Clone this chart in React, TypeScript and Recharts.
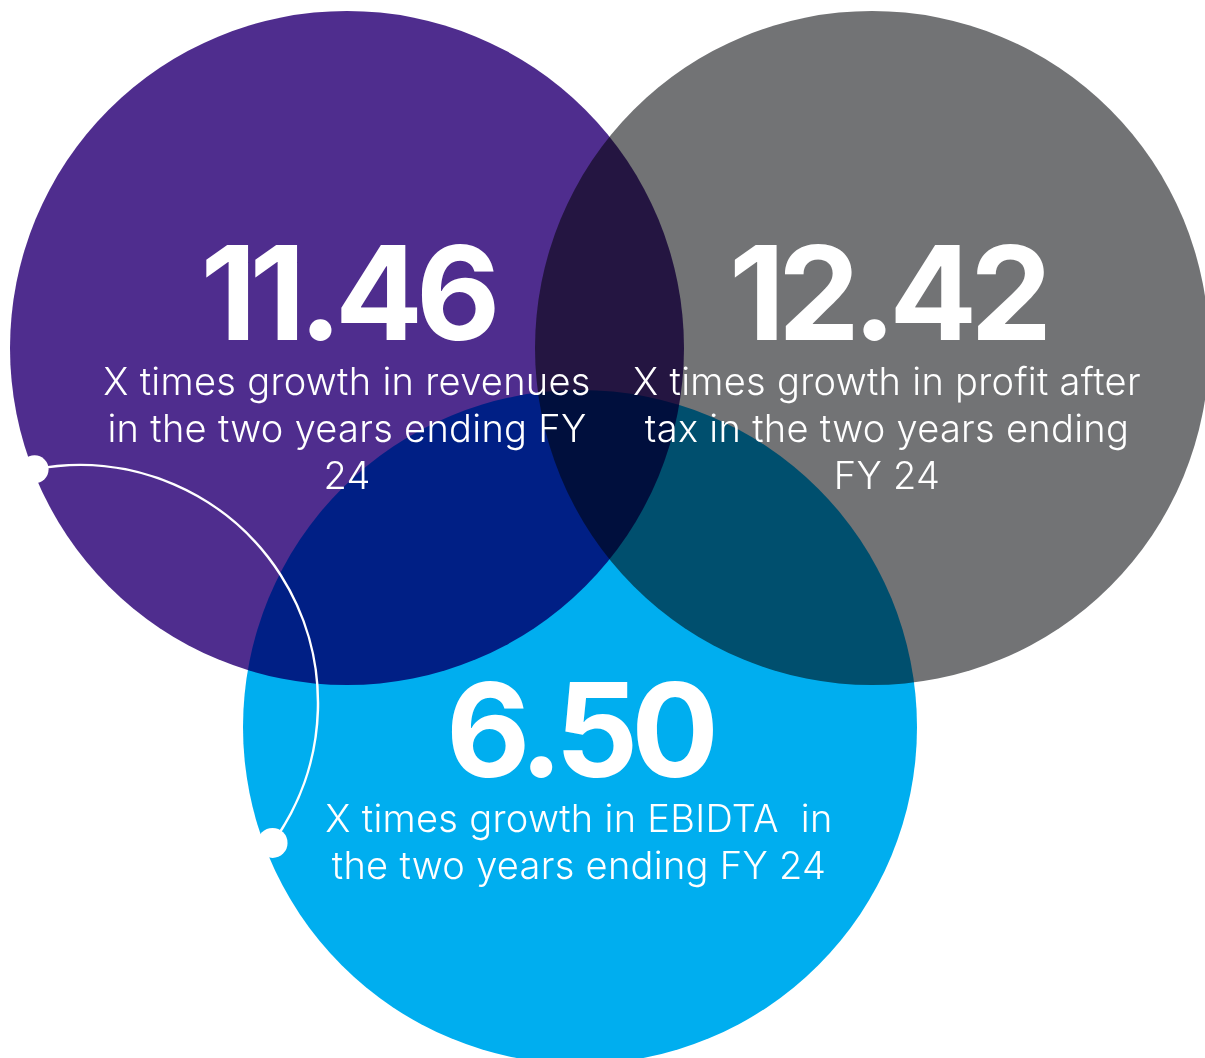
import React from "react";
import { ScatterChart, Scatter, XAxis, YAxis } from "recharts";

// growth multiples, FY22 -> FY24
const metrics = ["11.46", "12.42", "6.50"];
const captions = [
  ["X times growth in revenues", "in the two years ending FY", "24"],
  ["X times growth in profit after", "tax in the two years ending", "FY 24"],
  ["X times growth in EBIDTA  in", "the two years ending FY 24"],
];
// venn layout (chart units)
const circleX = [347, 872, 580];
const circleY = [348, 348, 727];
const labelX = [347, 887, 579];
const labelY = [340, 340, 777];
const connectorX = [80];
const connectorY = [703];

const colors = ["#4F2D8E", "#727375", "#00AEEF"];

const W = 1205;
const H = 1058;
const R = 337;

const circles = circleX.map((x, i) => ({ x, y: circleY[i], color: colors[i] }));
const labels = labelX.map((x, i) => ({ x, y: labelY[i], value: metrics[i], lines: captions[i] }));
const connector = connectorX.map((x, i) => ({ x, y: connectorY[i] }));

const CircleShape = (props: any) => {
  const { cx, cy, payload } = props;
  return <circle cx={cx} cy={cy} r={R} fill={payload.color} style={{ mixBlendMode: "multiply" }} />;
};

const ArcShape = (props: any) => {
  const { cx, cy } = props;
  const r = 238;
  const a0 = (-101 * Math.PI) / 180;
  const a1 = (36 * Math.PI) / 180;
  const x0 = cx + r * Math.cos(a0);
  const y0 = cy + r * Math.sin(a0);
  const x1 = cx + r * Math.cos(a1);
  const y1 = cy + r * Math.sin(a1);
  return (
    <g>
      <path d={`M${x0},${y0} A${r},${r} 0 0 1 ${x1},${y1}`} fill="none" stroke="#fff" strokeWidth={2.5} />
      <circle cx={x0} cy={y0} r={14} fill="#fff" />
      <circle cx={x1} cy={y1} r={15} fill="#fff" />
    </g>
  );
};

const LabelShape = (props: any) => {
  const { cx, cy, payload } = props;
  return (
    <g>
      <text
        x={cx}
        y={cy}
        textAnchor="middle"
        fill="#fff"
        fontFamily="Inter, 'Liberation Sans', sans-serif"
        fontWeight={700}
        fontSize={130}
        letterSpacing={-7}
      >
        {payload.value}
      </text>
      {payload.lines.map((line: string, i: number) => (
        <text
          key={i}
          x={cx}
          y={cy + 55 + i * 47}
          textAnchor="middle"
          fill="#fff"
          fontFamily="Inter, 'Liberation Sans', sans-serif"
          fontWeight={300}
          fontSize={38}
          letterSpacing={0.3}
          style={{ whiteSpace: "pre" }}
        >
          {line}
        </text>
      ))}
    </g>
  );
};

export default function App() {
  return (
    <div style={{ position: "absolute", left: 0, top: 0, background: "#fff" }}>
      <ScatterChart width={W} height={H} margin={{ top: 0, right: 0, bottom: 0, left: 0 }}>
        <XAxis type="number" dataKey="x" domain={[0, W]} allowDataOverflow hide />
        <YAxis type="number" dataKey="y" domain={[0, H]} allowDataOverflow reversed hide />
        <Scatter data={circles} shape={CircleShape} isAnimationActive={false} />
        <Scatter data={connector} shape={ArcShape} isAnimationActive={false} />
        <Scatter data={labels} shape={LabelShape} isAnimationActive={false} />
      </ScatterChart>
    </div>
  );
}
